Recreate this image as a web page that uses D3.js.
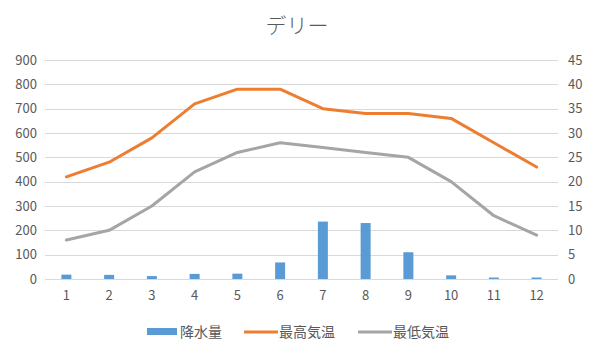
<!DOCTYPE html>
<html><head><meta charset="utf-8">
<script src="https://cdn.jsdelivr.net/npm/d3@7"></script>
<style>body{margin:0;background:#fff}svg{display:block}text{font-family:"Noto Sans CJK JP","Noto Sans",sans-serif}</style>
</head><body><svg id="c" width="594" height="357"></svg>
<script>
const months = ["1","2","3","4","5","6","7","8","9","10","11","12"];
const precip = [18, 17, 12, 21, 22, 68, 236, 230, 110, 15, 6, 6];
const tmax = [21, 24, 29, 36, 39, 39, 35, 34, 34, 33, 28, 23];
const tmin = [8, 10, 15, 22, 26, 28, 27, 26, 25, 20, 13, 9];
const leftTicks = [0,100,200,300,400,500,600,700,800,900];
const rightTicks = [0,5,10,15,20,25,30,35,40,45];
const seriesNames = ["降水量","最高気温","最低気温"];
const colors = ["#5B9BD5","#ED7D31","#A5A5A5"];

const svg = d3.select("#c");
const L=45, R=558, T=60, B=279;
const x = d3.scaleBand().domain(months).range([L,R]);
const yL = d3.scaleLinear().domain([0,900]).range([B,T]);
const yR = d3.scaleLinear().domain([0,45]).range([B,T]);

svg.append("text").attr("x",297).attr("y",33).attr("text-anchor","middle")
  .attr("font-size",21).attr("font-weight",300).attr("fill","#595959").text("デリー");

const grid = svg.append("g");
grid.selectAll("line").data(leftTicks).join("line")
  .attr("x1",L).attr("x2",R).attr("y1",d=>Math.round(yL(d))+0.5).attr("y2",d=>Math.round(yL(d))+0.5)
  .attr("stroke","#D9D9D9").attr("stroke-width",1);

const gl = svg.append("g").attr("transform",`translate(${L-8},0)`)
  .call(d3.axisLeft(yL).tickValues(leftTicks).tickSize(0).tickPadding(0));
const gr = svg.append("g").attr("transform",`translate(${R+10},0)`)
  .call(d3.axisRight(yR).tickValues(rightTicks).tickSize(0).tickPadding(0));
const gx = svg.append("g").attr("transform",`translate(0,${B+10})`)
  .call(d3.axisBottom(x).tickSize(0).tickPadding(2));
[gl,gr,gx].forEach(g=>{g.select(".domain").remove();
  g.selectAll("text").attr("font-size",13).attr("fill","#595959").attr("font-family","'Open Sans',sans-serif");});

const bw = 10;
svg.append("g").selectAll("rect").data(precip).join("rect")
  .attr("x",(d,i)=>x(months[i])+x.bandwidth()/2-bw/2).attr("width",bw)
  .attr("y",d=>yL(d)).attr("height",d=>B-yL(d)).attr("fill",colors[0]);

const line = d3.line().x((d,i)=>x(months[i])+x.bandwidth()/2).y(d=>yR(d));
[[tmax,colors[1]],[tmin,colors[2]]].forEach(([data,c])=>{
  svg.append("path").datum(data).attr("d",line).attr("fill","none")
    .attr("stroke",c).attr("stroke-width",3).attr("stroke-linejoin","round").attr("stroke-linecap","round");
});

const lg = svg.append("g");
const items = [{x:147,type:"rect"},{x:244,type:"line"},{x:358,type:"line"}];
items.forEach((it,i)=>{
  if(it.type==="rect") lg.append("rect").attr("x",it.x).attr("y",328).attr("width",30).attr("height",7).attr("fill",colors[i]);
  else lg.append("line").attr("x1",it.x).attr("x2",it.x+34).attr("y1",332).attr("y2",332).attr("stroke",colors[i]).attr("stroke-width",3);
  lg.append("text").attr("x",it.x+(it.type==="rect"?33:35)).attr("y",337).attr("font-size",14).attr("fill","#595959").text(seriesNames[i]);
});
</script></body></html>
